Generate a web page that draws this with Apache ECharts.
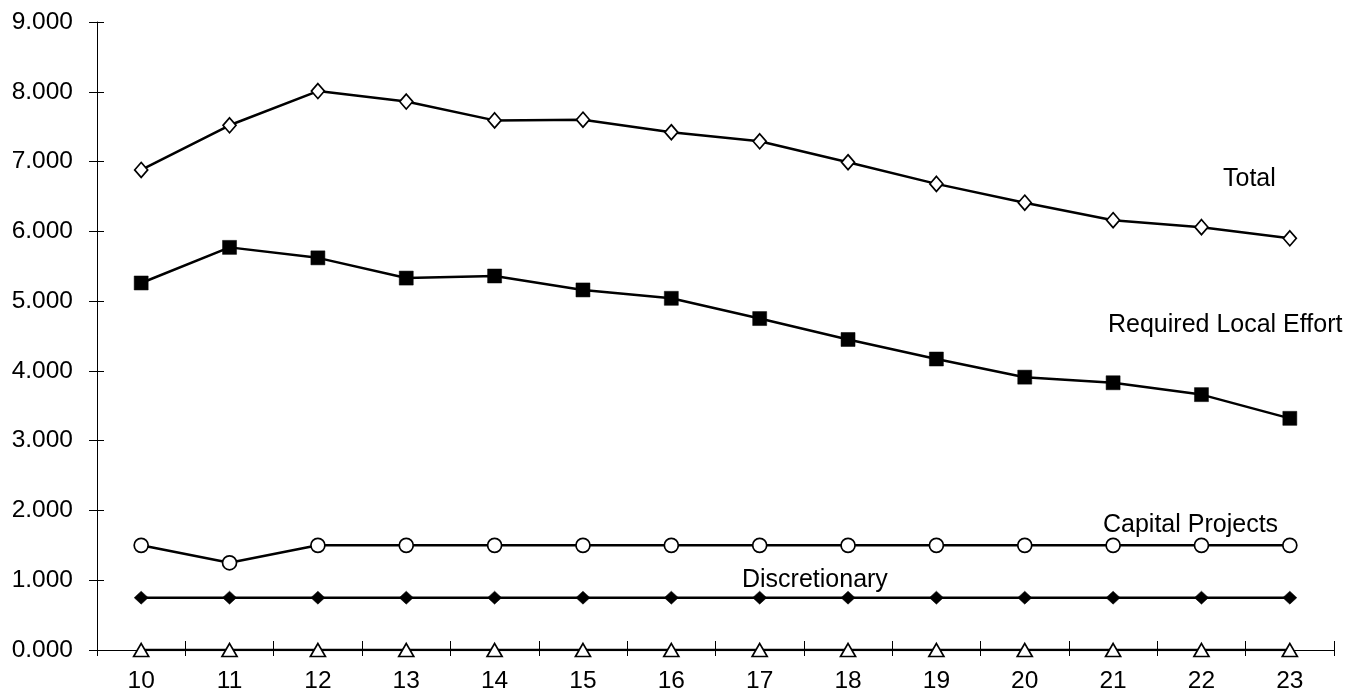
<!DOCTYPE html>
<html>
<head>
<meta charset="utf-8">
<script src="https://cdn.jsdelivr.net/npm/echarts@6/dist/echarts.min.js"></script>
<style>html,body{margin:0;padding:0;background:#fff;}#c{width:1365px;height:694px;}</style>
</head>
<body>
<div id="c"></div>
<script>
const categories = ['10','11','12','13','14','15','16','17','18','19','20','21','22','23'];
const total = [6.88,7.52,8.01,7.86,7.59,7.60,7.42,7.29,6.99,6.68,6.41,6.16,6.06,5.90];
const requiredLocalEffort = [5.26,5.77,5.62,5.33,5.36,5.16,5.04,4.75,4.45,4.17,3.91,3.83,3.66,3.32];
const capitalProjects = [1.50,1.25,1.50,1.50,1.50,1.50,1.50,1.50,1.50,1.50,1.50,1.50,1.50,1.50];
const discretionary = [0.75,0.75,0.75,0.75,0.75,0.75,0.75,0.75,0.75,0.75,0.75,0.75,0.75,0.75];
const zeroSeries = [0,0,0,0,0,0,0,0,0,0,0,0,0,0];
const labels = [
  {text:'Total', left:1223, y:181},
  {text:'Required Local Effort', left:1108, y:327},
  {text:'Capital Projects', left:1103, y:527},
  {text:'Discretionary', left:742, y:582}
];

const FONT = '"Liberation Sans", Arial, sans-serif';
const chart = echarts.init(document.getElementById('c'), null, {renderer:'canvas'});

function lineSeries(name, data, symbol, size, filled){
  return {
    name, type:'line', data, symbol, symbolSize:size, showAllSymbol:true,
    xAxisIndex:0, yAxisIndex:0, animation:false, z:3,
    lineStyle:{color:'#000', width:2.5},
    itemStyle:{color: filled ? '#000' : '#fff', borderColor:'#000', borderWidth: filled ? 0.5 : 1.7, opacity:1},
    emphasis:{disabled:true}
  };
}

const yBase = {type:'value', min:0, max:9, interval:1};
const xBase = {type:'category', data:categories, boundaryGap:true};

chart.setOption({
  backgroundColor:'#fff',
  animation:false,
  grid:{left:97, right:31, top:22, bottom:37, containLabel:false},
  xAxis:[
    Object.assign({}, xBase, {
      position:'bottom',
      axisLine:{show:true, lineStyle:{color:'#000', width:1}},
      axisTick:{show:true, inside:false, length:6, alignWithLabel:false, lineStyle:{color:'#000'}},
      axisLabel:{show:true, color:'#000', fontSize:24.5, fontFamily:FONT, margin:19},
      splitLine:{show:false}
    }),
    Object.assign({}, xBase, {
      position:'bottom',
      axisLine:{show:false},
      axisTick:{show:true, inside:true, length:9, lineStyle:{color:'#000'}},
      axisLabel:{show:false},
      splitLine:{show:false}
    })
  ],
  yAxis:[
    Object.assign({}, yBase, {
      position:'left',
      axisLine:{show:true, lineStyle:{color:'#000', width:1}},
      axisTick:{show:true, inside:false, length:8, lineStyle:{color:'#000'}},
      axisLabel:{show:true, color:'#000', fontSize:24.5, fontFamily:FONT, margin:24,
        formatter: v => v.toFixed(3)},
      splitLine:{show:false}
    }),
    Object.assign({}, yBase, {
      position:'left',
      axisLine:{show:false},
      axisTick:{show:true, inside:true, length:7, lineStyle:{color:'#000'}},
      axisLabel:{show:false},
      splitLine:{show:false}
    })
  ],
  series:[
    lineSeries('Total', total, 'diamond', [13,15], false),
    lineSeries('Required Local Effort', requiredLocalEffort, 'rect', 14, true),
    lineSeries('Capital Projects', capitalProjects, 'circle', 14, false),
    lineSeries('Discretionary', discretionary, 'diamond', [14,13], true),
    lineSeries('Zero', zeroSeries, 'triangle', [15,13], false)
  ],
  graphic: labels.map(l => ({
    type:'text', left:l.left, top:l.y - 14, silent:true, z:10,
    style:{text:l.text, fill:'#000', font:'25px ' + FONT}
  }))
});
</script>
</body>
</html>
